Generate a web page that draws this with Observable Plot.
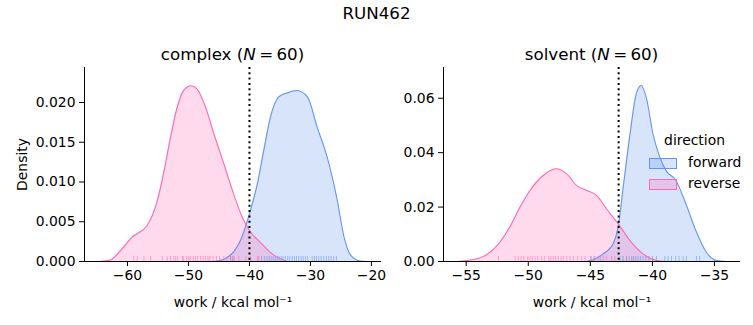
<!DOCTYPE html>
<html><head><meta charset="utf-8">
<script src="https://cdn.jsdelivr.net/npm/d3@7"></script>
<script src="https://cdn.jsdelivr.net/npm/@observablehq/plot@0.6"></script>
<style>
body{margin:0;background:#fff;font-family:"DejaVu Sans",sans-serif;}
#fig{position:relative;width:753px;height:325px;overflow:hidden;background:#fff;}
#fig svg{position:absolute;top:0;}
.abs{position:absolute;white-space:nowrap;color:#000;line-height:1;}
</style></head><body><div id="fig"></div>
<script>
// ---- data ----
const figTitle = "RUN462";
const panelNames = ["complex", "solvent"];
const panelN = [60, 60];
const directions = ["forward", "reverse"];
const colors = ["#6495ED", "#FF69B4"];

// KDE curves: complex
const complexForwardX = [-46.4, -45.0, -43.65, -42.5, -41.5, -40.0, -38.7, -37.65, -36.55, -35.2, -33.8, -32.2, -30.5, -28.9, -27.25, -25.6, -24.5, -23.4, -22.0, -20.7];
const complexForwardD = [0, 0.0001, 0.0005, 0.0013, 0.0026, 0.0060, 0.0098, 0.0140, 0.0182, 0.0207, 0.0212, 0.0215, 0.0207, 0.0169, 0.0131, 0.0077, 0.0031, 0.0008, 0.0001, 0];
const complexReverseX = [-64.9, -62.8, -61.0, -59.2, -56.8, -55.1, -54.0, -52.95, -51.85, -50.8, -49.6, -48.6, -47.2, -45.85, -44.2, -42.6, -41.2, -40.0, -38.2, -36.0, -33.8];
const complexReverseD = [0, 0.0002, 0.0015, 0.0031, 0.0045, 0.0077, 0.0114, 0.0156, 0.0194, 0.0215, 0.0221, 0.0217, 0.0194, 0.0161, 0.0123, 0.0085, 0.0056, 0.0039, 0.0024, 0.0008, 0];
// KDE curves: solvent
const solventForwardX = [-45.3, -44.5, -43.96, -43.5, -43.16, -42.76, -42.35, -41.8, -41.3, -40.9, -40.5, -39.95, -39.4, -38.9, -38.1, -37.3, -36.5, -35.65, -34.85, -34.05];
const solventForwardD = [0, 0.0012, 0.0028, 0.0045, 0.0065, 0.0126, 0.0273, 0.0469, 0.0616, 0.0647, 0.0604, 0.0469, 0.0383, 0.0334, 0.0298, 0.0212, 0.0114, 0.0034, 0.0004, 0];
const solventReverseX = [-55.75, -54.1, -52.5, -51.5, -50.66, -49.86, -48.8, -47.77, -46.9, -46.1, -45.3, -44.5, -43.7, -42.76, -41.8, -40.75, -39.7, -38.9];
const solventReverseD = [0, 0.001, 0.0059, 0.0126, 0.0200, 0.0261, 0.0316, 0.0341, 0.0322, 0.0279, 0.0261, 0.0243, 0.0194, 0.0139, 0.0077, 0.0028, 0.0004, 0];

// rug samples (work values)
const complexForwardRug = [-43.1, -42.7, -38.0, -37.5, -37.1, -36.77, -36.44, -36.12, -35.79, -35.46, -35.13, -34.8, -34.48, -34.1, -33.72, -33.39, -33.0, -32.62, -32.3, -31.92, -31.52, -31.2, -30.82, -30.44, -29.72, -29.34, -29.02, -28.64, -28.25, -27.82, -27.38, -27.0, -26.61, -26.18, -25.74];
const complexReverseRug = [-58.97, -58.4, -57.3, -56.2, -54.3, -53.5, -52.95, -52.4, -52.1, -51.75, -51.0, -50.8, -50.3, -49.95, -49.7, -49.2, -48.85, -48.5, -48.0, -47.6, -47.2, -46.8, -46.5, -45.95, -45.4, -44.9, -44.2, -43.65, -43.1, -42.8, -42.5, -41.75, -40.6, -39.8, -38.7, -38.5];
const solventForwardRug = [-45.0, -44.7, -44.2, -42.6, -42.36, -42.08, -41.87, -41.68, -41.5, -41.33, -41.15, -40.96, -40.75, -40.53, -40.26, -39.99, -39.67, -39.0, -38.74, -38.46, -38.12, -37.85, -37.53, -37.26, -36.45, -36.19];
const solventReverseRug = [-52.4, -51.06, -50.8, -50.58, -50.36, -50.04, -49.86, -49.67, -49.45, -49.24, -48.92, -48.7, -48.33, -48.17, -47.98, -47.79, -47.58, -47.36, -47.18, -46.9, -46.64, -46.37, -46.02, -45.7, -45.43, -44.9, -44.63, -44.37, -43.96, -43.69, -43.29, -43.02, -42.08, -41.55];

// reference (dotted) lines
const complexRef = -40.0;
const solventRef = -42.72;

// axes
const complexXDomain = [-67.05, -18.35];
const solventXDomain = [-56.83, -32.9];
const complexYDomain = [0, 0.0244];
const solventYDomain = [0, 0.0713];
const complexXTicks = [-60, -50, -40, -30, -20];
const solventXTicks = [-55, -50, -45, -40, -35];
const complexYTicks = [0, 0.005, 0.01, 0.015, 0.02];
const solventYTicks = [0, 0.02, 0.04, 0.06];
const xLabel = "work / kcal mol\u207B\u00B9";
const yLabel = "Density";

// ---- build ----
const toRows = (xs, ds) => xs.map((x, i) => ({x, d: ds[i]}));
const fig = document.getElementById("fig");
const H = 325, mTop = 67, mBottom = 64;
const tickFont = 13.9, titleFont = 16.7;

function panel(o) {
  const plotH = H - mTop - mBottom;
  const marks = [];
  o.curves.forEach((c, i) => {
    marks.push(Plot.areaY(c, {x: "x", y: "d", fill: colors[i], fillOpacity: 0.25, curve: "monotone-x"}));
  });
  o.curves.forEach((c, i) => {
    marks.push(Plot.lineY(c, {x: "x", y: "d", stroke: colors[i], strokeWidth: 1.1, curve: "monotone-x"}));
  });
  o.rugs.forEach((r, i) => {
    marks.push(Plot.tickX(r, {x: d => d, stroke: colors[i], strokeOpacity: 0.55, strokeWidth: 1, insetTop: plotH - 5}));
  });
  marks.push(Plot.ruleX([o.ref], {stroke: "#000", strokeWidth: 2, strokeDasharray: "2,3.3"}));
  marks.push(Plot.ruleY([o.yDomain[0]], {stroke: "#000", strokeWidth: 1}));
  marks.push(Plot.ruleX([o.xDomain[0]], {stroke: "#000", strokeWidth: 1}));
  marks.push(Plot.axisX({ticks: o.xTicks, tickSize: 5, tickPadding: 4, tickFormat: d3.format("d"),
    label: xLabel, labelAnchor: "center", labelArrow: "none", labelOffset: 45}));
  marks.push(Plot.axisY({ticks: o.yTicks, tickSize: 5, tickPadding: 4, tickFormat: d3.format(o.yFmt),
    label: o.yLabel, labelAnchor: "center", labelArrow: "none", labelOffset: 67}));
  const svg = Plot.plot({
    width: o.width, height: H,
    marginLeft: o.mLeft, marginRight: o.mRight, marginTop: mTop, marginBottom: mBottom,
    x: {domain: o.xDomain},
    y: {domain: o.yDomain},
    style: {fontFamily: "DejaVu Sans, sans-serif", fontSize: tickFont + "px", color: "#000", background: "transparent", overflow: "visible"},
    marks
  });
  svg.style.left = o.left + "px";
  fig.appendChild(svg);
}

panel({left: 0, width: 390, mLeft: 84, mRight: 9,
  xDomain: complexXDomain, yDomain: complexYDomain, xTicks: complexXTicks, yTicks: complexYTicks, yFmt: ".3f", yLabel: yLabel,
  curves: [toRows(complexForwardX, complexForwardD), toRows(complexReverseX, complexReverseD)],
  rugs: [complexForwardRug, complexReverseRug], ref: complexRef});
panel({left: 390, width: 363, mLeft: 53, mRight: 13,
  xDomain: solventXDomain, yDomain: solventYDomain, xTicks: solventXTicks, yTicks: solventYTicks, yFmt: ".2f", yLabel: null,
  curves: [toRows(solventForwardX, solventForwardD), toRows(solventReverseX, solventReverseD)],
  rugs: [solventForwardRug, solventReverseRug], ref: solventRef});

function addText(html, x, y, size, anchor) {
  const d = document.createElement("div");
  d.className = "abs";
  d.innerHTML = html;
  d.style.fontSize = size + "px";
  d.style.left = x + "px";
  d.style.top = y + "px";
  d.style.transform = anchor === "center" ? "translate(-50%,-50%)" : "translate(0,-50%)";
  fig.appendChild(d);
  return d;
}
addText(figTitle, 376.5, 13, titleFont, "center");
addText(`${panelNames[0]} (<i>N</i>\u2009=\u2009${panelN[0]})`, 232.5, 54, titleFont, "center");
addText(`${panelNames[1]} (<i>N</i>\u2009=\u2009${panelN[1]})`, 591.5, 54, titleFont, "center");

// legend
addText("direction", 694.5, 141, tickFont, "center");
directions.forEach((name, i) => {
  const y = 162.5 + i * 21;
  const sw = document.createElement("div");
  sw.style.cssText = `position:absolute;left:649px;top:${y - 5}px;width:26px;height:9px;border:1px solid ${colors[i]};`;
  sw.style.background = d3.color(colors[i]).copy({opacity: 0.25}).formatRgb();
  fig.appendChild(sw);
  addText(name, 688, y, tickFont, "left");
});
</script></body></html>
